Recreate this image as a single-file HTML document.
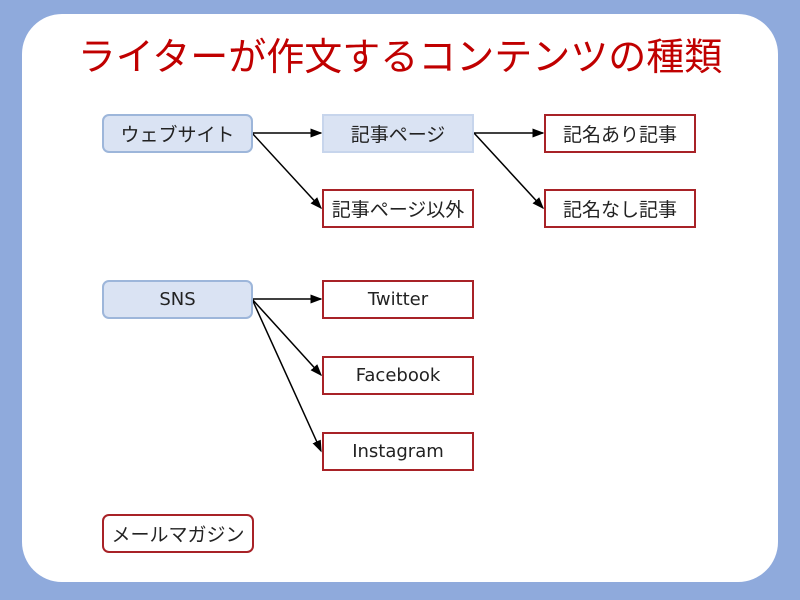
<!DOCTYPE html>
<html><head><meta charset="utf-8"><style>
body{margin:0;width:800px;height:600px;background:#8faadc;position:relative;overflow:hidden;font-family:"Liberation Sans","Noto Sans CJK JP",sans-serif}
.panel{position:absolute;left:22px;top:14px;width:756px;height:568px;background:#fff;border-radius:40px}
.t{position:absolute;left:0;width:800px;top:30px;text-align:center;color:#c00000;font-size:38px;line-height:56px}
.b{position:absolute;box-sizing:border-box;height:39px;display:flex;align-items:center;justify-content:center;font-size:19px;color:#222}
.en{font-family:"DejaVu Sans",sans-serif;font-size:18px}
.blue{background:#dae3f3;border:2px solid #9db6da;border-radius:7px}
.sq{background:#dae3f3;border:2px solid #c7d5ec}
.red{background:#fff;border:2px solid #a82227}
.rr{border-radius:7px}
svg{position:absolute;left:0;top:0}
</style></head><body>
<div class="panel"></div>
<div class="t">ライターが作文するコンテンツの種類</div>
<svg width="800" height="600"><defs><marker id="a" markerWidth="8" markerHeight="8" refX="7" refY="4" orient="auto"><path d="M0,1 L8,4 L0,7z" fill="#000"/></marker></defs>
<g stroke="#000" stroke-width="1.5" marker-end="url(#a)">
<line x1="252" y1="133" x2="321" y2="133"/><line x1="252" y1="133" x2="321" y2="208"/>
<line x1="474" y1="133" x2="543" y2="133"/><line x1="474" y1="133" x2="543" y2="208"/>
<line x1="252" y1="299" x2="321" y2="299"/><line x1="252" y1="299" x2="321" y2="375"/><line x1="252" y1="299" x2="321" y2="451"/>
</g></svg>
<div class="b blue" style="left:102px;top:114px;width:151px">ウェブサイト</div>
<div class="b sq" style="left:322px;top:114px;width:152px">記事ページ</div>
<div class="b red" style="left:322px;top:189px;width:152px">記事ページ以外</div>
<div class="b red" style="left:544px;top:114px;width:152px">記名あり記事</div>
<div class="b red" style="left:544px;top:189px;width:152px">記名なし記事</div>
<div class="b blue en" style="left:102px;top:280px;width:151px">SNS</div>
<div class="b red en" style="left:322px;top:280px;width:152px">Twitter</div>
<div class="b red en" style="left:322px;top:356px;width:152px">Facebook</div>
<div class="b red en" style="left:322px;top:432px;width:152px">Instagram</div>
<div class="b red rr" style="left:102px;top:514px;width:152px">メールマガジン</div>
</body></html>
